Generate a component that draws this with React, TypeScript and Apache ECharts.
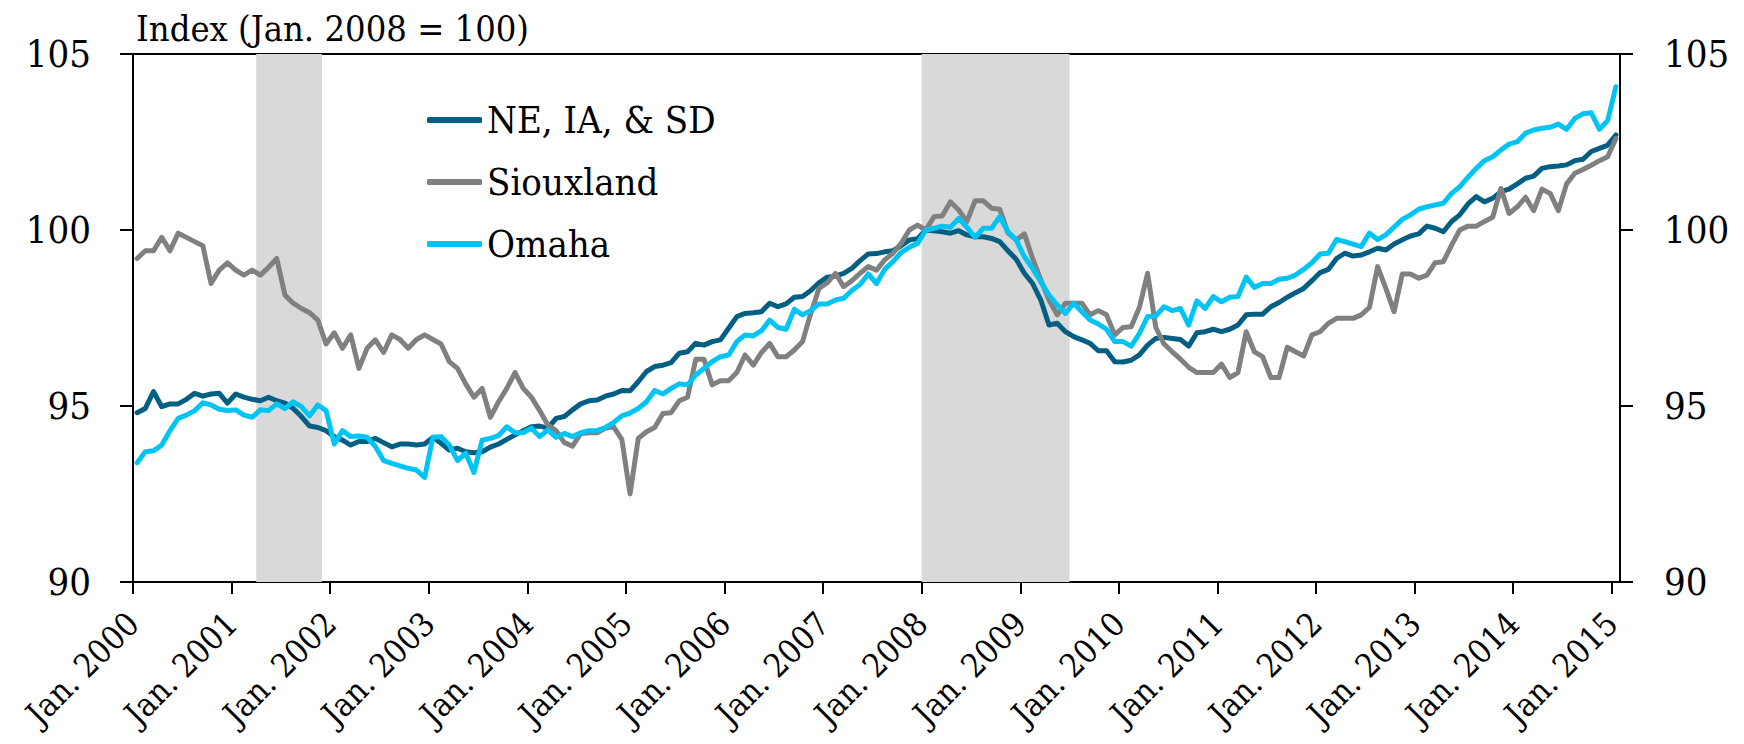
import React, { useEffect, useRef } from 'react';
import * as echarts from 'echarts';

// Monthly index values, Jan. 2000 (index 0) through Jan. 2015 (index 180); Jan. 2008 = 100
const NE_IA_SD = [
  94.81, 94.93, 95.41, 94.98, 95.06, 95.06, 95.19, 95.36, 95.28, 95.34, 95.36, 95.08,
  95.34, 95.25, 95.19, 95.15, 95.25, 95.15, 95.08, 94.93, 94.7, 94.43, 94.39, 94.3,
  94.13, 94.03, 93.89, 93.99, 93.99, 94.08, 93.96, 93.84, 93.92, 93.92, 93.89, 93.92,
  94.11, 93.94, 93.75, 93.8, 93.7, 93.67, 93.7, 93.83, 93.92, 94.05, 94.18, 94.3,
  94.41, 94.43, 94.37, 94.65, 94.7, 94.89, 95.06, 95.15, 95.17, 95.28, 95.34, 95.44,
  95.43, 95.69, 95.98, 96.12, 96.16, 96.23, 96.5, 96.54, 96.78, 96.73, 96.83, 96.88,
  97.21, 97.54, 97.63, 97.65, 97.68, 97.92, 97.82, 97.9, 98.09, 98.11, 98.28, 98.5,
  98.66, 98.69, 98.77, 98.91, 99.13, 99.32, 99.33, 99.38, 99.41, 99.55, 99.72, 99.75,
  100.0, 99.98, 99.95, 99.91, 99.98, 99.86, 99.81, 99.81, 99.76, 99.67, 99.41, 99.17,
  98.77, 98.48, 98.01, 97.3, 97.35, 97.11, 96.97, 96.88, 96.78, 96.57, 96.57, 96.26,
  96.25, 96.3, 96.45, 96.73, 96.92, 96.95, 96.92, 96.89, 96.7, 97.08, 97.11, 97.18,
  97.11, 97.18, 97.3, 97.59, 97.61, 97.61, 97.82, 97.94, 98.09, 98.22, 98.34, 98.56,
  98.79, 98.88, 99.19, 99.34, 99.26, 99.29, 99.38, 99.48, 99.43, 99.6, 99.72, 99.83,
  99.89, 100.11, 100.05, 99.95, 100.24, 100.43, 100.74, 100.95, 100.8, 100.9, 101.09, 101.16,
  101.31, 101.47, 101.53, 101.75, 101.8, 101.82, 101.85, 101.97, 102.01, 102.23, 102.32, 102.41,
  102.7,
];

const SIOUXLAND = [
  99.19, 99.41, 99.41, 99.79, 99.41, 99.91, 99.79, 99.67, 99.55, 98.48, 98.86, 99.07,
  98.86, 98.72, 98.86, 98.72, 98.94, 99.19, 98.15, 97.92, 97.77, 97.65, 97.44, 96.76,
  97.08, 96.64, 97.02, 96.07, 96.64, 96.88, 96.52, 97.02, 96.89, 96.64, 96.89, 97.02,
  96.89, 96.76, 96.26, 96.07, 95.63, 95.25, 95.5, 94.68, 95.12, 95.5, 95.95, 95.5,
  95.25, 94.87, 94.46, 94.3, 93.96, 93.86, 94.22, 94.24, 94.24, 94.37, 94.41, 94.05,
  92.5, 94.08, 94.27, 94.39, 94.79, 94.81, 95.15, 95.25, 96.33, 96.33, 95.6, 95.72,
  95.72, 95.95, 96.45, 96.16, 96.52, 96.78, 96.4, 96.4, 96.59, 96.83, 97.63, 98.34,
  98.5, 98.77, 98.39, 98.56, 98.77, 98.96, 98.86, 99.15, 99.34, 99.62, 100.0, 100.14,
  100.0, 100.38, 100.4, 100.8, 100.57, 100.24, 100.83, 100.83, 100.62, 100.59, 99.92, 99.72,
  99.89, 99.19, 98.58, 98.01, 97.59, 97.92, 97.92, 97.92, 97.59, 97.71, 97.59, 97.02,
  97.23, 97.25, 97.8, 98.77, 97.23, 96.76, 96.54, 96.33, 96.1, 95.95, 95.95, 95.95,
  96.19, 95.81, 95.95, 97.11, 96.54, 96.4, 95.81, 95.81, 96.67, 96.54, 96.42, 97.02,
  97.11, 97.35, 97.49, 97.49, 97.49, 97.59, 97.8, 98.96, 98.34, 97.68, 98.75, 98.75,
  98.63, 98.72, 99.07, 99.1, 99.57, 100.0, 100.11, 100.11, 100.24, 100.36, 101.18, 100.47,
  100.66, 100.93, 100.55, 101.16, 101.04, 100.55, 101.31, 101.61, 101.72, 101.84, 101.97, 102.08,
  102.6,
];

const OMAHA = [
  93.39, 93.7, 93.73, 93.89, 94.3, 94.65, 94.74, 94.87, 95.09, 95.03, 94.91, 94.87,
  94.89, 94.74, 94.68, 94.89, 94.87, 95.06, 94.93, 95.12, 94.98, 94.72, 95.03, 94.87,
  93.92, 94.3, 94.13, 94.15, 94.11, 93.85, 93.45, 93.37, 93.3, 93.23, 93.18, 92.97,
  94.11, 94.13, 93.89, 93.45, 93.66, 93.11, 94.03, 94.08, 94.16, 94.41, 94.24, 94.24,
  94.37, 94.13, 94.32, 94.11, 94.22, 94.13, 94.24, 94.3, 94.3, 94.39, 94.53, 94.72,
  94.8, 94.93, 95.12, 95.44, 95.34, 95.5, 95.63, 95.6, 95.88, 96.07, 96.26, 96.4,
  96.45, 96.83, 97.02, 96.99, 97.14, 97.44, 97.23, 97.18, 97.75, 97.59, 97.71, 97.9,
  97.9, 98.01, 98.06, 98.28, 98.45, 98.75, 98.48, 98.88, 99.1, 99.36, 99.51, 99.62,
  100.0, 100.05, 100.11, 100.08, 100.33, 100.08, 99.79, 100.05, 100.05, 100.38, 99.95, 99.72,
  99.24, 98.91, 98.53, 98.15, 97.87, 97.63, 97.92, 97.68, 97.44, 97.33, 97.18, 96.83,
  96.83, 96.7, 97.06, 97.54, 97.56, 97.82, 97.71, 97.77, 97.3, 97.99, 97.77, 98.11,
  97.96, 98.09, 98.11, 98.66, 98.37, 98.48, 98.48, 98.6, 98.63, 98.72, 98.88, 99.07,
  99.32, 99.34, 99.73, 99.67, 99.6, 99.53, 99.91, 99.73, 99.86, 100.08, 100.3, 100.43,
  100.59, 100.66, 100.71, 100.76, 101.04, 101.23, 101.5, 101.75, 101.97, 102.08, 102.27, 102.44,
  102.51, 102.75, 102.84, 102.89, 102.92, 103.01, 102.86, 103.17, 103.3, 103.33, 102.86, 103.11,
  104.07,
];

const SERIES_NAMES = ['NE, IA, & SD', 'Siouxland', 'Omaha'];
const START_YEAR = 2000;
const LAST_YEAR = 2015;
// Recession shading, as month offsets from Jan. 2000 (start of band, end of band)
const RECESSIONS = [
  [15, 23],
  [96, 114],
];
const Y_MIN = 90;
const Y_MAX = 105;
const Y_STEP = 5;

const COLORS = ['#005f83', '#808080', '#00c4f4'];
const FONT = 'DejaVu Serif Condensed, DejaVu Serif, serif';

export default function App() {
  const ref = useRef<HTMLDivElement>(null);

  useEffect(() => {
    document.body.style.margin = '0';
    const chart = echarts.init(ref.current as HTMLDivElement, null, { renderer: 'svg' });
    const toPts = (arr: number[]) => arr.map((v, i) => [i + 0.5, v]);
    const months = (LAST_YEAR - START_YEAR) * 12 + 1;

    const yAxisBase = {
      type: 'value',
      min: Y_MIN,
      max: Y_MAX,
      interval: Y_STEP,
      splitLine: { show: false },
      axisLine: { show: true, onZero: false, lineStyle: { color: '#000', width: 2 } },
      axisTick: { show: true, inside: false, length: 13, lineStyle: { color: '#000', width: 2 } },
      axisLabel: { color: '#000', fontSize: 38, fontFamily: FONT },
    };

    const option: any = {
      animation: false,
      backgroundColor: '#fff',
      textStyle: { fontFamily: FONT },
      grid: {
        left: 133,
        top: 54,
        right: 124,
        bottom: 162,
        containLabel: false,
        outerBoundsMode: 'none',
        show: true,
        borderColor: '#000',
        borderWidth: 2,
        backgroundColor: 'transparent',
      },
      legend: {
        data: SERIES_NAMES,
        orient: 'vertical',
        left: 427,
        top: 101,
        padding: 0,
        itemGap: 24,
        itemWidth: 55,
        itemHeight: 6,
        icon: 'roundRect',
        textStyle: { color: '#000', fontSize: 38, fontFamily: FONT, lineHeight: 38 },
      },
      graphic: [
        {
          type: 'text',
          left: 136,
          top: 10,
          style: {
            text: 'Index (Jan. 2008 = 100)',
            fill: '#000',
            fontSize: 36,
            fontFamily: FONT,
          },
        },
      ],
      xAxis: {
        type: 'value',
        min: 0,
        max: months,
        interval: 12,
        splitLine: { show: false },
        axisLine: { show: true, onZero: false, lineStyle: { color: '#000', width: 2 } },
        axisTick: { show: true, inside: false, length: 12, lineStyle: { color: '#000', width: 2 } },
        axisLabel: {
          color: '#000',
          fontSize: 33,
          fontFamily: FONT,
          rotate: 45,
          margin: 36,
          showMaxLabel: false,
          formatter: (v: number) =>
            v % 12 === 0 && v <= (LAST_YEAR - START_YEAR) * 12 ? `Jan. ${START_YEAR + v / 12}` : '',
        },
      },
      yAxis: [
        { ...yAxisBase, position: 'left', axisLabel: { ...yAxisBase.axisLabel, margin: 42 } },
        { ...yAxisBase, position: 'right', axisLabel: { ...yAxisBase.axisLabel, margin: 44 } },
      ],
      series: [NE_IA_SD, SIOUXLAND, OMAHA].map((arr, i) => ({
        name: SERIES_NAMES[i],
        type: 'line',
        data: toPts(arr),
        yAxisIndex: 0,
        showSymbol: false,
        symbol: 'none',
        z: 3 + i,
        color: COLORS[i],
        lineStyle: { color: COLORS[i], width: 5, cap: 'round', join: 'round' },
        markArea:
          i === 0
            ? {
                silent: true,
                z: 1,
                itemStyle: { color: '#d9d9d9' },
                data: RECESSIONS.map(([a, b]) => [{ xAxis: a }, { xAxis: b }]),
              }
            : undefined,
      })),
    };

    chart.setOption(option);
    return () => chart.dispose();
  }, []);

  return (
    <div
      ref={ref}
      style={{ position: 'absolute', left: 0, top: 0, width: 1744, height: 744 }}
    />
  );
}
